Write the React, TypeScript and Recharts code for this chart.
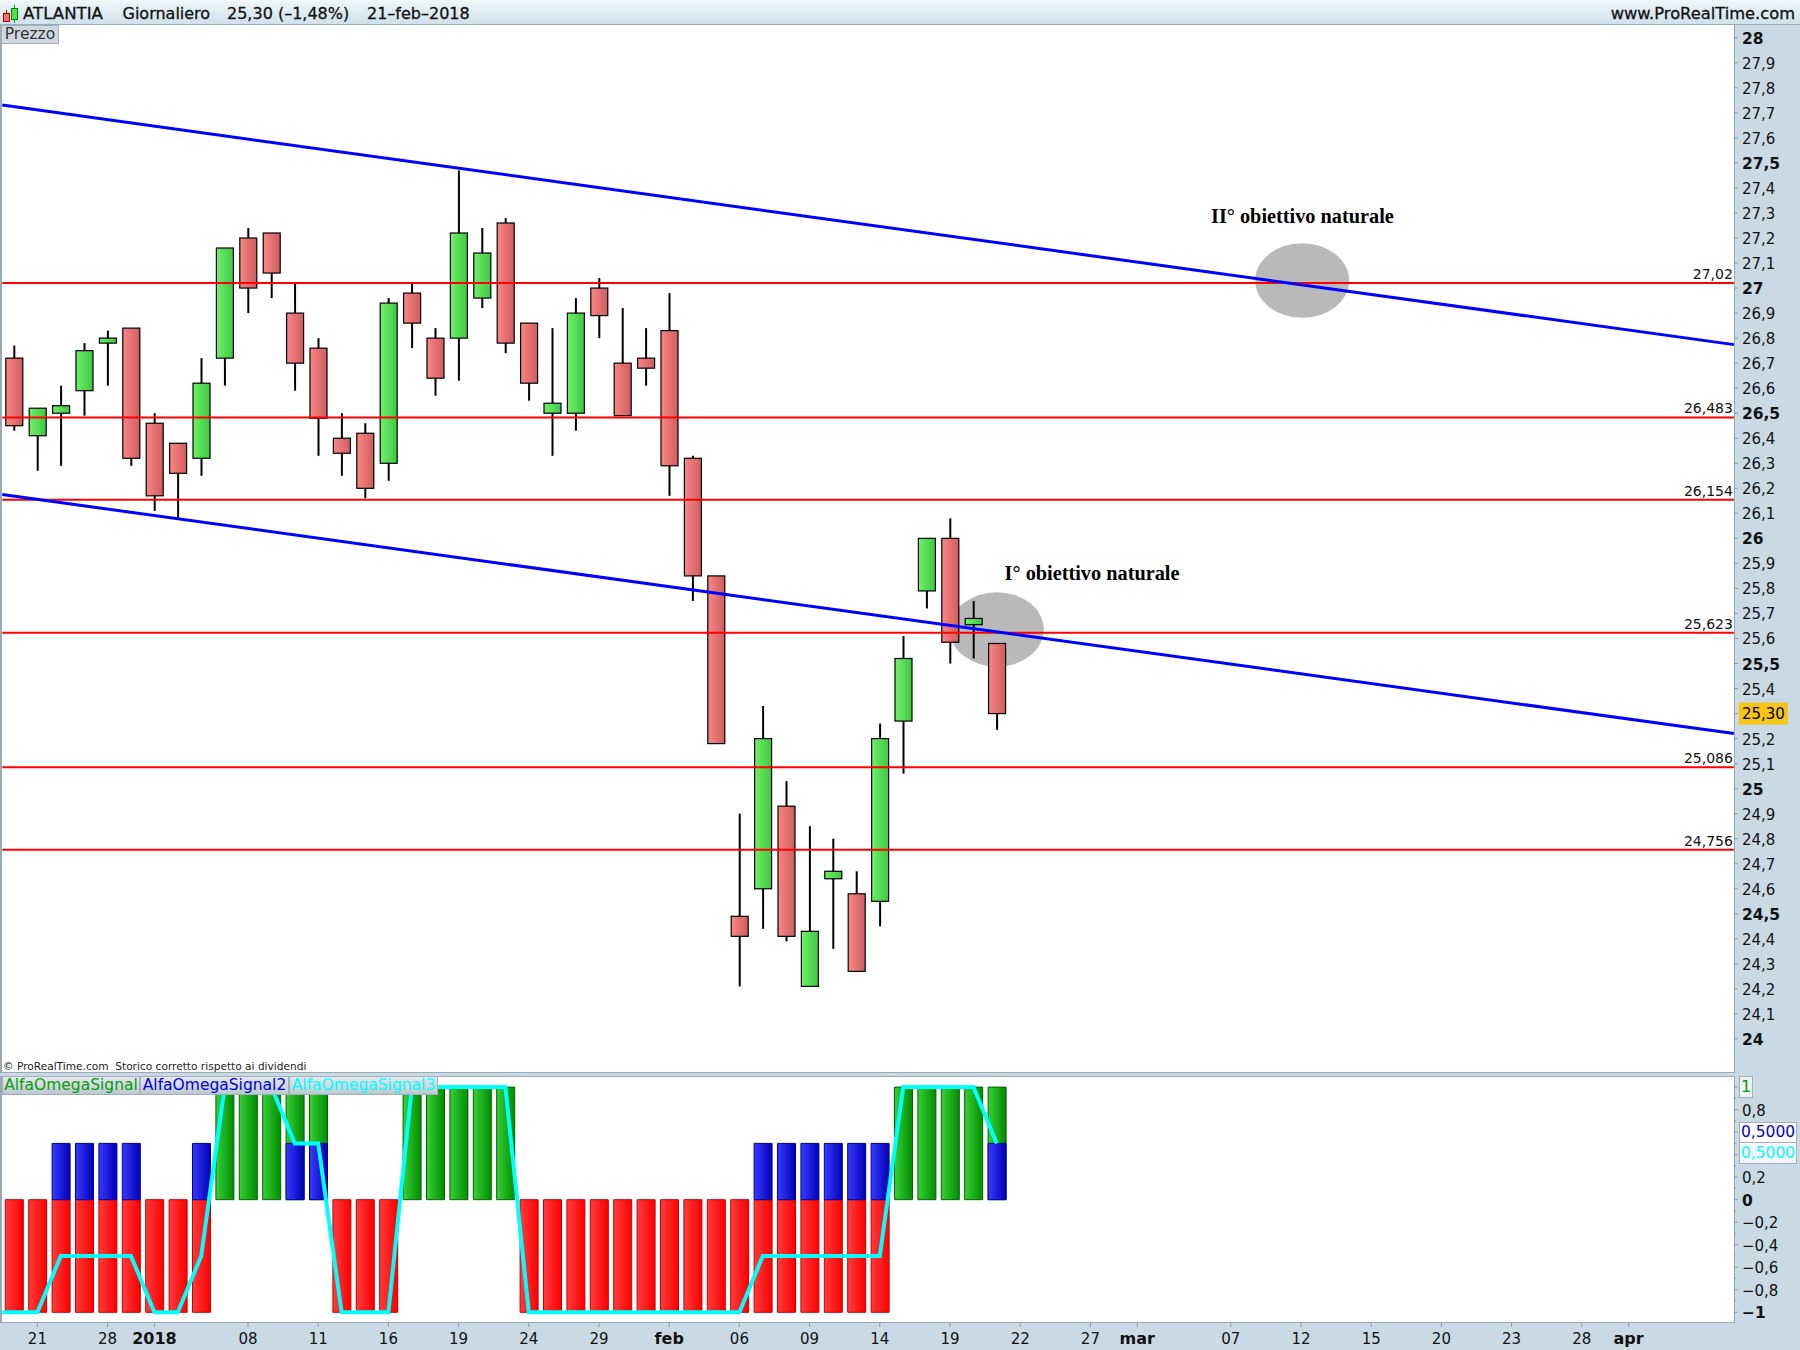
import { Bar, ComposedChart, Line, ReferenceDot, ReferenceLine, XAxis, YAxis } from "recharts";

const FONT = "'DejaVu Sans', sans-serif";

// daily candles
const opens = [26.72, 26.41, 26.5, 26.59, 26.78, 26.84, 26.46, 26.38, 26.32, 26.72, 27.2, 27.22, 26.9, 26.76, 26.4, 26.42, 26.3, 26.98, 26.8, 26.8, 26.96, 27.26, 26.86, 26.5, 26.5, 27.0, 26.7, 26.72, 26.83, 26.32, 25.85, 24.49, 24.6, 24.93, 24.21, 24.64, 24.58, 24.55, 25.27, 25.79, 26.0, 25.655, 25.58];
const highs = [26.77, 26.52, 26.61, 26.78, 26.83, 26.84, 26.5, 26.38, 26.72, 27.16, 27.24, 27.22, 27.02, 26.8, 26.5, 26.46, 26.96, 27.02, 26.84, 27.47, 27.24, 27.28, 26.86, 26.84, 26.96, 27.04, 26.92, 26.84, 26.98, 26.33, 25.85, 24.9, 25.33, 25.03, 24.85, 24.8, 24.67, 25.26, 25.61, 26.0, 26.08, 25.75, 25.58];
const lows = [26.43, 26.27, 26.29, 26.49, 26.61, 26.29, 26.11, 26.08, 26.25, 26.61, 26.9, 26.96, 26.59, 26.33, 26.25, 26.16, 26.23, 26.76, 26.57, 26.63, 26.92, 26.74, 26.55, 26.33, 26.43, 26.8, 26.49, 26.61, 26.17, 25.75, 25.18, 24.21, 24.44, 24.39, 24.21, 24.36, 24.27, 24.45, 25.06, 25.72, 25.5, 25.52, 25.235];
const closes = [26.45, 26.52, 26.53, 26.75, 26.8, 26.32, 26.17, 26.26, 26.62, 27.16, 27.0, 27.06, 26.7, 26.48, 26.34, 26.2, 26.94, 26.86, 26.64, 27.22, 27.14, 26.78, 26.62, 26.54, 26.9, 26.89, 26.49, 26.68, 26.29, 25.85, 25.18, 24.41, 25.2, 24.41, 24.43, 24.67, 24.27, 25.2, 25.52, 26.0, 25.585, 25.68, 25.3];

// indicator panel
const signalRed = [-1, -1, -1, -1, -1, -1, -1, -1, -1, null, null, null, null, null, -1, -1, -1, null, null, null, null, null, -1, -1, -1, -1, -1, -1, -1, -1, -1, -1, -1, -1, -1, -1, -1, -1, null, null, null, null, null];
const signalGreen = [null, null, null, null, null, null, null, null, null, 1, 1, 1, 1, 1, null, null, null, 1, 1, 1, 1, 1, null, null, null, null, null, null, null, null, null, null, null, null, null, null, null, null, 1, 1, 1, 1, 1];
const signalBlue = [null, null, 0.5, 0.5, 0.5, 0.5, null, null, 0.5, null, null, null, 0.5, 0.5, null, null, null, null, null, null, null, null, null, null, null, null, null, null, null, null, null, null, 0.5, 0.5, 0.5, 0.5, 0.5, 0.5, null, null, null, null, 0.5];
const signalCyan = [-1, -1, -0.5, -0.5, -0.5, -0.5, -1, -1, -0.5, 1, 1, 1, 0.5, 0.5, -1, -1, -1, 1, 1, 1, 1, 1, -1, -1, -1, -1, -1, -1, -1, -1, -1, -1, -0.5, -0.5, -0.5, -0.5, -0.5, -0.5, 1, 1, 1, 1, 0.5];

const levels = [27.02, 26.483, 26.154, 25.623, 25.086, 24.756];
const upperTrend = [27.731, 26.774];
const lowerTrend = [26.175, 25.22];
const targetSpots = [
  { x: 55.05, y: 27.03 },
  { x: 42, y: 25.636 },
];
const targetNotes = [
  { x: 55.06, y: 27.288, text: "II° obiettivo naturale" },
  { x: 46.07, y: 25.861, text: "I° obiettivo naturale" },
];

const priceTicks = [24, 24.1, 24.2, 24.3, 24.4, 24.5, 24.6, 24.7, 24.8, 24.9, 25, 25.1, 25.2, 25.3, 25.4, 25.5, 25.6, 25.7, 25.8, 25.9, 26, 26.1, 26.2, 26.3, 26.4, 26.5, 26.6, 26.7, 26.8, 26.9, 27, 27.1, 27.2, 27.3, 27.4, 27.5, 27.6, 27.7, 27.8, 27.9, 28];
const signalTicks = [-1, -0.9, -0.8, -0.7, -0.6, -0.5, -0.4, -0.3, -0.2, -0.1, 0, 0.1, 0.2, 0.3, 0.4, 0.5, 0.6, 0.7, 0.8, 0.9, 1];
const signalLabels = [-1, -0.8, -0.6, -0.4, -0.2, 0, 0.2, 0.8];

const dateTicks = [1, 4, 6, 10, 13, 16, 19, 22, 25, 28, 31, 34, 37, 40, 43, 46, 48, 52, 55, 58, 61, 64, 67, 69];
const dateLabels = ["21", "28", "2018", "08", "11", "16", "19", "24", "29", "feb", "06", "09", "14", "19", "22", "27", "mar", "07", "12", "15", "20", "23", "28", "apr"];
const boldDates = ["2018", "feb", "mar", "apr"];

const candleRows = opens.map((open, i) => ({ idx: i, open, high: highs[i], low: lows[i], close: closes[i] }));
const signalRows = signalCyan.map((cyan, i) => ({ idx: i, red: signalRed[i], green: signalGreen[i], blue: signalBlue[i], cyan }));
// the cyan line runs in from the left edge of the panel
const cyanRows = [{ idx: -0.5, cyan: -1 }, ...signalCyan.map((cyan, i) => ({ idx: i, cyan }))];

const fmt = (v: number) => String(v).replace(".", ",").replace("-", "−");

const priceMargin = { top: 24.5, right: 0, bottom: 0, left: 2.3 };
const priceDomain = [23.864, 28.053];
const signalDomain = [-1.095, 1.0986];
const slotDomain = [-0.5, 73.5];

function Candle(props: any) {
  const { x, y, width, height, payload } = props;
  const unit = height / (payload.high - payload.low);
  const top = y + (payload.high - Math.max(payload.open, payload.close)) * unit;
  const bottom = y + (payload.high - Math.min(payload.open, payload.close)) * unit;
  const up = payload.close >= payload.open;
  return (
    <g>
      <line x1={x + width / 2} x2={x + width / 2} y1={y} y2={y + height} stroke="#000" strokeWidth={2} />
      <rect x={x + 0.5} y={top} width={width - 1} height={bottom - top} fill={up ? "url(#candleUp)" : "url(#candleDown)"} stroke="#000" strokeWidth={1.2} />
    </g>
  );
}

function LevelLabel({ viewBox, text }: any) {
  return (
    <text x={viewBox.x + viewBox.width - 1} y={viewBox.y - 4} textAnchor="end" fontFamily={FONT} fontSize={14} fill="#111">{text}</text>
  );
}

function PriceTick({ x, y, payload }: any) {
  const v = payload.value;
  const bold = Number.isInteger(v * 2);
  return (
    <g>
      <line x1={x - 8} x2={x - 4} y1={y} y2={y} stroke="#8b9ba6" />
      {v === 25.3 ? (
        <g>
          <rect x={x - 3} y={y - 11} width={49} height={22} fill="#f6c516" />
          <text x={x} y={y + 5.5} fontFamily={FONT} fontSize={15} fill="#000">25,30</text>
        </g>
      ) : (
        <text x={x} y={y + 6} fontFamily={FONT} fontSize={bold ? 15.5 : 15} fontWeight={bold ? 700 : 400} fill="#111">{fmt(v)}</text>
      )}
    </g>
  );
}

function SignalTick({ x, y, payload }: any) {
  const v = payload.value;
  const major = Math.abs(v * 5 - Math.round(v * 5)) < 1e-6;
  const bold = Number.isInteger(v);
  return (
    <g>
      <line x1={x - 8} x2={x - 8 + (major ? 4 : 2)} y1={y} y2={y} stroke="#8b9ba6" />
      {signalLabels.includes(v) && (
        <text x={x} y={y + 6} fontFamily={FONT} fontSize={bold ? 15.5 : 15} fontWeight={bold ? 700 : 400} fill="#111">{fmt(v)}</text>
      )}
    </g>
  );
}

function DateTick({ x, y, payload }: any) {
  const label = dateLabels[dateTicks.indexOf(payload.value)];
  const bold = boldDates.includes(label);
  return (
    <text x={x} y={y + 15} textAnchor="middle" fontFamily={FONT} fontSize={bold ? 16 : 15} fontWeight={bold ? 700 : 400} fill="#111">{label}</text>
  );
}

function Tag({ left, top, width, height, color, bg, children, size = 15.5 }: any) {
  return (
    <div style={{ position: "absolute", left, top, width, height, boxSizing: "border-box", border: "1px solid #a3b0ba", background: bg, color, fontFamily: FONT, fontSize: size, lineHeight: height - 2 + "px", textAlign: "center", whiteSpace: "nowrap", overflow: "hidden" }}>
      {children}
    </div>
  );
}

const tagBg = "linear-gradient(#e4e9ed, #bcc8d0)";
const headSpan = { position: "absolute", top: 0, whiteSpace: "pre", WebkitTextStroke: "0.3px #111" } as const;

export default function App() {
  return (
    <div style={{ position: "absolute", left: 0, top: 0, width: 1800, height: 1350, overflow: "hidden", background: "#c9dae5" }}>
      {/* header */}
      <div style={{ position: "absolute", left: 0, top: 0, width: 1800, height: 24, background: "linear-gradient(#eff8fb, #cfe1ea)", borderBottom: "1px solid #9aaab5", fontFamily: FONT, fontSize: 16, lineHeight: "27px", color: "#111" }}>
        <svg width={20} height={24} style={{ position: "absolute", left: 0, top: 0 }}>
          <line x1={6.5} x2={6.5} y1={10} y2={22} stroke="#c00" />
          <rect x={3.5} y={13.5} width={6} height={8} fill="#f07070" stroke="#a00" />
          <line x1={14.5} x2={14.5} y1={5} y2={23} stroke="#0a0" />
          <rect x={11.5} y={8.5} width={6} height={11} fill="#50e050" stroke="#080" />
        </svg>
        <span style={{ ...headSpan, left: 23, fontSize: 16.6 }}>ATLANTIA</span>
        <span style={{ ...headSpan, left: 122.5 }}>Giornaliero</span>
        <span style={{ ...headSpan, left: 227 }}>25,30 (–1,48%)</span>
        <span style={{ ...headSpan, left: 367 }}>21–feb–2018</span>
        <span style={{ ...headSpan, right: 5, fontSize: 16.3 }}>www.ProRealTime.com</span>
      </div>

      {/* price panel */}
      <div style={{ position: "absolute", left: 0, top: 25, width: 1735, height: 1048, background: "#fff", borderLeft: "2px solid #9aaab5", borderRight: "1px solid #9aaab5", borderBottom: "1px solid #9aaab5", boxSizing: "border-box" }} />
      {/* the grey target spots sit behind everything else in the panel */}
      <div style={{ position: "absolute", left: 0, top: 0 }}>
        <ComposedChart width={1800} height={1073} data={candleRows} margin={{ ...priceMargin, right: 66.1 }}>
          <XAxis dataKey="idx" type="number" domain={slotDomain} hide />
          <YAxis domain={priceDomain} allowDataOverflow hide />
          {targetSpots.map((t) => (
            <ReferenceDot key={t.x} x={t.x} y={t.y} r={1} shape={(p: any) => <ellipse cx={p.cx} cy={p.cy} rx={47} ry={37.3} fill="#b9b9b9" />} />
          ))}
        </ComposedChart>
      </div>
      <div style={{ position: "absolute", left: 0, top: 0 }}>
        <ComposedChart width={1800} height={1073} data={candleRows} barSize={18} margin={priceMargin}>
          <defs>
            <linearGradient id="candleUp" x1="0" x2="1" y1="0" y2="0">
              <stop offset="0" stopColor="#70f268" />
              <stop offset="1" stopColor="#3fc645" />
            </linearGradient>
            <linearGradient id="candleDown" x1="0" x2="1" y1="0" y2="0">
              <stop offset="0" stopColor="#fb8686" />
              <stop offset="1" stopColor="#cd5d5d" />
            </linearGradient>
          </defs>
          <XAxis dataKey="idx" type="number" domain={slotDomain} hide />
          <YAxis orientation="right" width={66.1} domain={priceDomain} allowDataOverflow ticks={priceTicks} interval={0} axisLine={false} tickLine={false} tickSize={4} tickMargin={4} tick={<PriceTick />} />
          <Bar dataKey={(d: any) => [d.low, d.high]} shape={<Candle />} isAnimationActive={false} />
          {levels.map((v) => (
            <ReferenceLine key={v} y={v} stroke="#ff0000" strokeWidth={2} label={<LevelLabel text={fmt(v)} />} />
          ))}
          <ReferenceLine segment={[{ x: -0.5, y: upperTrend[0] }, { x: 73.5, y: upperTrend[1] }]} stroke="#0000ff" strokeWidth={3} />
          <ReferenceLine segment={[{ x: -0.5, y: lowerTrend[0] }, { x: 73.5, y: lowerTrend[1] }]} stroke="#0000ff" strokeWidth={3} />
          {targetNotes.map((t) => (
            <ReferenceDot key={t.text} x={t.x} y={t.y} r={1} shape={(p: any) => (
              <text x={p.cx} y={p.cy + 7} textAnchor="middle" fontFamily="'Liberation Serif', serif" fontWeight={700} fontSize={20.3} fill="#000">{t.text}</text>
            )} />
          ))}
        </ComposedChart>
      </div>
      <Tag left={1} top={25} width={58} height={19} color="#333" bg="#cfd8de">Prezzo</Tag>
      <div style={{ position: "absolute", left: 3, top: 1059, fontFamily: FONT, fontSize: 10.6, lineHeight: "15px", color: "#222", whiteSpace: "pre" }}>© ProRealTime.com  Storico corretto rispetto ai dividendi</div>

      {/* indicator panel */}
      <div style={{ position: "absolute", left: 0, top: 1076, width: 1735, height: 247, background: "#fff", borderLeft: "2px solid #9aaab5", borderRight: "1px solid #9aaab5", borderBottom: "1px solid #9aaab5", borderTop: "1px solid #9aaab5", boxSizing: "border-box" }} />
      <div style={{ position: "absolute", left: 0, top: 1076 }}>
        <ComposedChart width={1800} height={274} data={signalRows} barSize={18} barGap={-18} margin={{ top: 0, right: 0, bottom: 0, left: 2.3 }}>
          <defs>
            <linearGradient id="barRed" x1="0" x2="1" y1="0" y2="0">
              <stop offset="0" stopColor="#ff3c3c" />
              <stop offset="1" stopColor="#fb0000" />
            </linearGradient>
            <linearGradient id="barGreen" x1="0" x2="1" y1="0" y2="0">
              <stop offset="0" stopColor="#38d038" />
              <stop offset="1" stopColor="#008c00" />
            </linearGradient>
            <linearGradient id="barBlue" x1="0" x2="1" y1="0" y2="0">
              <stop offset="0" stopColor="#3a3aff" />
              <stop offset="1" stopColor="#0000b4" />
            </linearGradient>
          </defs>
          <XAxis dataKey="idx" type="number" domain={slotDomain} height={27} ticks={dateTicks} interval={0} axisLine={false} tickSize={4} tickLine={{ stroke: "#8b9ba6" }} tick={<DateTick />} />
          <YAxis orientation="right" width={66.1} domain={signalDomain} allowDataOverflow ticks={signalTicks} interval={0} axisLine={false} tickLine={false} tickSize={4} tickMargin={4} tick={<SignalTick />} />
          <Bar dataKey="red" fill="url(#barRed)" stroke="#c80000" isAnimationActive={false} />
          <Bar dataKey="green" fill="url(#barGreen)" stroke="#006400" isAnimationActive={false} />
          <Bar dataKey="blue" fill="url(#barBlue)" stroke="#0000a0" isAnimationActive={false} />
        </ComposedChart>
      </div>
      {/* own layer, so the extra half-slot point does not narrow the bars */}
      <div style={{ position: "absolute", left: 0, top: 1076 }}>
        <ComposedChart width={1800} height={274} data={cyanRows} margin={{ top: 0, right: 66.1, bottom: 27, left: 2.3 }}>
          <XAxis dataKey="idx" type="number" domain={slotDomain} hide />
          <YAxis domain={signalDomain} allowDataOverflow hide />
          <Line dataKey="cyan" type="linear" stroke="#00ffff" strokeWidth={4} dot={false} isAnimationActive={false} />
        </ComposedChart>
      </div>
      <Tag left={2} top={1076} width={138} height={19} color="#0a9a0a" bg={tagBg}>AlfaOmegaSignal</Tag>
      <Tag left={140} top={1076} width={149} height={19} color="#0000dd" bg={tagBg}>AlfaOmegaSignal2</Tag>
      <Tag left={289} top={1076} width={149} height={19} color="#00ffff" bg={tagBg}>AlfaOmegaSignal3</Tag>
      <Tag left={1739} top={1076} width={14} height={22} color="#0a9a0a" bg="#eef1f3" size={16}>1</Tag>
      <Tag left={1739} top={1122} width={58} height={21} color="#0000dd" bg="#fff" size={15.5}>0,5000</Tag>
      <Tag left={1739} top={1142} width={58} height={22} color="#00ffff" bg="#f4f6f7" size={15.5}>0,5000</Tag>
    </div>
  );
}
